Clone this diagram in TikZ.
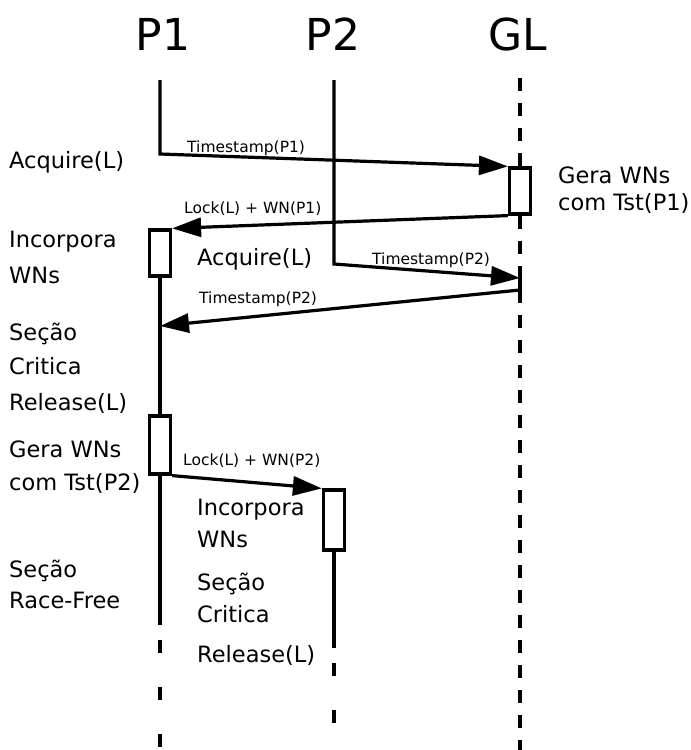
\documentclass[tikz,border=0pt]{standalone}
\usepackage{fontspec}
\setmainfont{DejaVu Sans}
\usepackage{xcolor}
\usepackage{tikz}
\usetikzlibrary{arrows.meta}

\begin{document}
\begin{tikzpicture}[x=1pt,y=-1pt,>={Triangle[length=29pt,width=19pt]},
  head/.style={anchor=base,inner sep=0pt,font=\fontsize{44}{50}\selectfont},
  lbl/.style={anchor=base west,inner sep=0pt,font=\fontsize{22.5}{26}\selectfont},
  msg/.style={anchor=base west,inner sep=0pt,font=\fontsize{15.5}{18}\selectfont},
  actbox/.style={draw,line width=3.2pt,inner sep=0pt,minimum width=21pt},
  life/.style={line width=3.2pt},
  dlife/.style={line width=3.6pt,dash pattern=on 13pt off 12pt},
  dend/.style={line width=3.2pt,dash pattern=on 13pt off 34pt}]
  \useasboundingbox (0,0) rectangle (691,750);

  \node[head] (hp1) at (163,50) {P1};
  \node[head] (hp2) at (333,50) {P2};
  \node[head] (hgl) at (518,50) {GL};

  \node[actbox,minimum height=46pt] (glbox) at (520,191) {};
  \node[actbox,minimum height=46pt] (inc1) at (160,253) {};
  \node[actbox,minimum height=58pt] (gera2) at (160,445) {};
  \node[actbox,minimum height=60pt] (inc2) at (334,520) {};

  \coordinate (p1top) at (160,80);
  \coordinate (p1turn) at (160,154);
  \coordinate (p1in) at (160,326);
  \coordinate (p1end) at (160,625);
  \coordinate (p1dash) at (160,640);
  \coordinate (p1bot) at (160,750);
  \coordinate (p2top) at (334,80);
  \coordinate (p2turn) at (334,264);
  \coordinate (p2end) at (334,648);
  \coordinate (p2dash) at (334,663);
  \coordinate (p2bot) at (334,750);
  \coordinate (gltop) at (520,78);
  \coordinate (glin) at (520,278);
  \coordinate (glout) at (520,290);
  \coordinate (glbot) at (520,750);

  % lifelines
  \draw[life] (inc1.south) -- (gera2.north);
  \draw[life] (gera2.south) -- (p1end);
  \draw[dend] (p1dash) -- (p1bot);
  \draw[life] (inc2.south) -- (p2end);
  \draw[dend] (p2dash) -- (p2bot);
  \draw[dlife] (gltop) -- (glbox.north);
  \draw[dlife] (glbox.south) -- (glin);
  \draw[life] (glin) -- (glout);
  \draw[dlife] (glout) -- (glbot);

  % messages
  \draw[life,->] (p1top) -- (p1turn) -- (glbox.north west);
  \draw[life,->] (glbox.south west) -- (inc1.north east);
  \draw[life,->] (p2top) -- (p2turn) -- (glin);
  \draw[life,->] (glout) -- (p1in);
  \draw[life,->] (gera2.south east) -- (inc2.north west);

  \node[msg] (ts1) at (187,152) {Timestamp(P1)};
  \node[msg] (lk1) at (184,213) {Lock(L) + WN(P1)};
  \node[msg] (ts2) at (372,264) {Timestamp(P2)};
  \node[msg] (ts3) at (199,303) {Timestamp(P2)};
  \node[msg] (lk2) at (183,465) {Lock(L) + WN(P2)};

  \node[lbl] (acq1) at (9,168) {Acquire(L)};
  \node[lbl] (gera1a) at (558,183) {Gera WNs};
  \node[lbl] (gera1b) at (558,210) {com Tst(P1)};
  \node[lbl] (inc1a) at (9,247) {Incorpora};
  \node[lbl] (inc1b) at (9,283) {WNs};
  \node[lbl] (acq2) at (197,265) {Acquire(L)};
  \node[lbl] (sec1a) at (9,340) {Seção};
  \node[lbl] (sec1b) at (9,374) {Critica};
  \node[lbl] (rel1) at (9,410) {Release(L)};
  \node[lbl] (gera2a) at (9,457) {Gera WNs};
  \node[lbl] (gera2b) at (9,490) {com Tst(P2)};
  \node[lbl] (inc2a) at (197,515) {Incorpora};
  \node[lbl] (inc2b) at (197,547) {WNs};
  \node[lbl] (sec2a) at (9,577) {Seção};
  \node[lbl] (sec2b) at (9,608) {Race-Free};
  \node[lbl] (sec3a) at (197,590) {Seção};
  \node[lbl] (sec3b) at (197,622) {Critica};
  \node[lbl] (rel2) at (197,662) {Release(L)};
\end{tikzpicture}
\end{document}
